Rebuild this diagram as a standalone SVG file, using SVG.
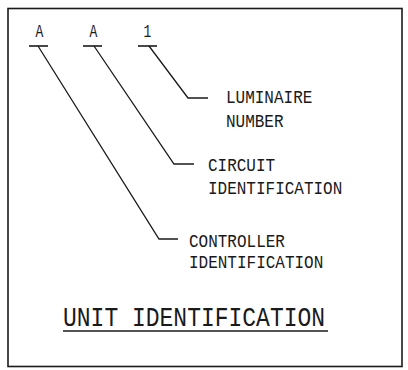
<svg xmlns="http://www.w3.org/2000/svg" width="408" height="370" viewBox="0 0 408 370">
<style>
.ln{stroke:#1a1a1a;stroke-width:1.3;fill:none}
.bar{stroke:#1a1a1a;stroke-width:1.6;fill:none}
text{font-family:"Liberation Mono","DejaVu Sans Mono",monospace;fill:#1a1a1a}
.lbl{font-size:16px}
.ch{font-size:13px;text-anchor:middle}
.ttl{font-size:23px}
</style>
<rect x="0" y="0" width="408" height="370" fill="#fff"/>
<rect x="8" y="8.5" width="394" height="358" fill="none" stroke="#1a1a1a" stroke-width="1.6"/>
<g id="char-controller">
<text class="ch" transform="translate(39.5,37) scale(1,1.35)">A</text>
<line class="bar" x1="29" y1="46" x2="48" y2="46"/>
</g>
<g id="char-circuit">
<text class="ch" transform="translate(93.5,37) scale(1,1.35)">A</text>
<line class="bar" x1="83" y1="46" x2="102" y2="46"/>
</g>
<g id="char-luminaire">
<text class="ch" transform="translate(147.5,37) scale(1,1.35)">1</text>
<line class="bar" x1="138" y1="46" x2="157" y2="46"/>
</g>
<g id="connectors">
<polyline class="ln" points="38,46 159,239 178,239"/>
<polyline class="ln" points="94,46 174,164 194,164"/>
<polyline class="ln" points="149,46 188,98 208,98"/>
</g>
<g id="label-luminaire">
<text class="lbl" transform="translate(226,103) scale(1,1.2)">LUMINAIRE</text>
<text class="lbl" transform="translate(226,127) scale(1,1.2)">NUMBER</text>
</g>
<g id="label-circuit">
<text class="lbl" transform="translate(208,171) scale(1,1.2)">CIRCUIT</text>
<text class="lbl" transform="translate(208,194) scale(1,1.2)">IDENTIFICATION</text>
</g>
<g id="label-controller">
<text class="lbl" transform="translate(189,247) scale(1,1.2)">CONTROLLER</text>
<text class="lbl" transform="translate(189,268) scale(1,1.2)">IDENTIFICATION</text>
</g>
<g id="title">
<text class="ttl" transform="translate(63,326) scale(1,1.18)">UNIT IDENTIFICATION</text>
<line class="ln" x1="63" y1="331" x2="328" y2="331"/>
</g>
</svg>
